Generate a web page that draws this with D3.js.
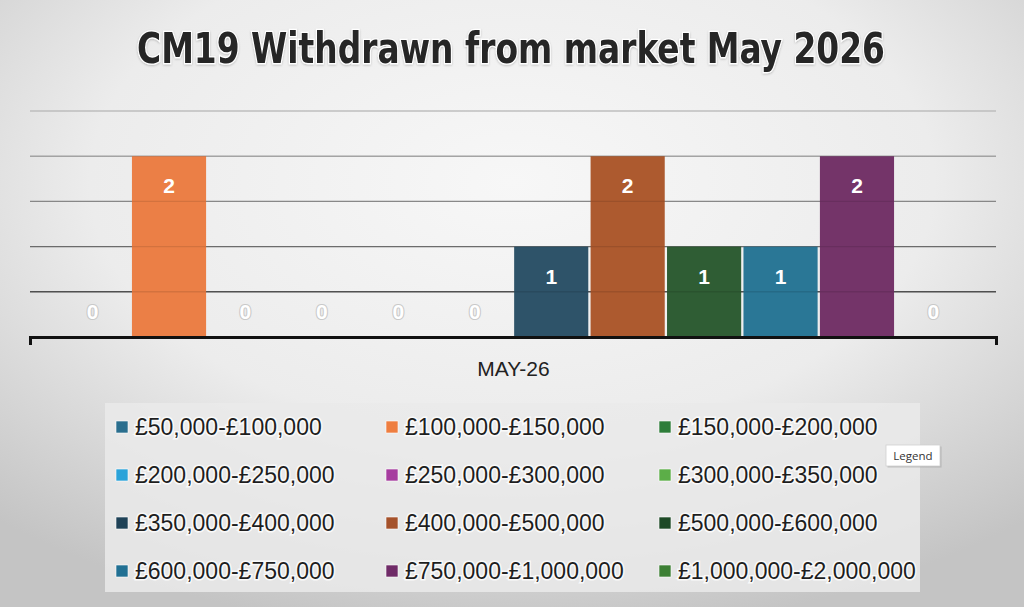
<!DOCTYPE html>
<html>
<head>
<meta charset="utf-8">
<script src="https://cdn.jsdelivr.net/npm/d3@7"></script>
<style>
  html, body { margin: 0; padding: 0; background: #d8d8d8; }
  svg { display: block; }
</style>
</head>
<body>
<svg id="chart" width="1024" height="607"></svg>
<script>
// ---- data ----
const categories = [
  "£50,000-£100,000", "£100,000-£150,000", "£150,000-£200,000",
  "£200,000-£250,000", "£250,000-£300,000", "£300,000-£350,000",
  "£350,000-£400,000", "£400,000-£500,000", "£500,000-£600,000",
  "£600,000-£750,000", "£750,000-£1,000,000", "£1,000,000-£2,000,000"
];
const barOrder = [
  "£50,000-£100,000", "£100,000-£150,000", "£150,000-£200,000",
  "£200,000-£250,000", "£250,000-£300,000", "£300,000-£350,000",
  "£350,000-£400,000", "£400,000-£500,000", "£500,000-£600,000",
  "£600,000-£750,000", "£750,000-£1,000,000", "£1,000,000-£2,000,000"
];
const values = [0, 2, 0, 0, 0, 0, 1, 2, 1, 1, 2, 0];
const legendColors = [
  "#2a6e8e", "#ee7e40", "#2e7d3a",
  "#2ba3d9", "#a63c9f", "#5cae48",
  "#1f4257", "#a5522b", "#1e4a27",
  "#217093", "#6f2b67", "#3c7f34"
];
const barColors = [
  "#2c6f8f", "#eb7f46", "#2f7c3b",
  "#2ba3d9", "#a63c9f", "#5cae48",
  "#2e5369", "#ad5a2f", "#2f5d34",
  "#2a7796", "#743469", "#3c7f34"
];
const periodLabels = ["MAY-26"];
const yTicks = [0.5, 1, 1.5, 2, 2.5];
const title = "CM19 Withdrawn from market May 2026";

// ---- layout ----
const W = 1024, H = 607;
const svg = d3.select("#chart");
const defs = svg.append("defs");

const bg = defs.append("radialGradient").attr("id", "bg")
  .attr("cx", "50%").attr("cy", "30%").attr("r", "75%");
bg.append("stop").attr("offset", "0%").attr("stop-color", "#f7f7f7");
bg.append("stop").attr("offset", "55%").attr("stop-color", "#ececec");
bg.append("stop").attr("offset", "100%").attr("stop-color", "#c4c4c4");
svg.append("rect").attr("width", W).attr("height", H).attr("fill", "url(#bg)");

const glow = defs.append("filter").attr("id", "glow")
  .attr("x", "-10%").attr("y", "-30%").attr("width", "120%").attr("height", "160%");
glow.append("feGaussianBlur").attr("in", "SourceAlpha").attr("stdDeviation", 1).attr("result", "b");
glow.append("feOffset").attr("in", "b").attr("dx", 0.3).attr("dy", 0.6).attr("result", "o");
glow.append("feFlood").attr("flood-color", "#000").attr("flood-opacity", 0.22);
glow.append("feComposite").attr("in2", "o").attr("operator", "in").attr("result", "s");
const gm = glow.append("feMerge");
gm.append("feMergeNode").attr("in", "s");
gm.append("feMergeNode").attr("in", "SourceGraphic");

const plotLeft = 30, plotRight = 996;
const x = d3.scaleBand().domain(barOrder).range([55.5, 970.5]).paddingInner(0.03).paddingOuter(0);
const y = d3.scaleLinear().domain([0, 2.5]).range([337, 111]);
const colorOf = d3.scaleOrdinal().domain(categories).range(barColors);
const legendColorOf = d3.scaleOrdinal().domain(categories).range(legendColors);
const gridColor = d3.scaleLinear().domain([0.5, 2.5]).range(["#4a4a4a", "#d2d2d2"]);

// title
svg.append("text")
  .attr("x", 511).attr("y", 63)
  .attr("text-anchor", "middle")
  .attr("font-family", "'Liberation Sans Narrow', 'DejaVu Sans Condensed', sans-serif")
  .attr("font-weight", "bold")
  .attr("font-size", 43)
  .attr("fill", "#262626")
  .attr("stroke", "#ffffff").attr("stroke-width", 2.5).attr("paint-order", "stroke")
  .attr("textLength", 748).attr("lengthAdjust", "spacingAndGlyphs")
  .attr("filter", "url(#glow)")
  .text(title);

// gridlines (behind bars)
const grid = svg.append("g");
grid.selectAll("line").data(yTicks).join("line")
  .attr("x1", plotLeft).attr("x2", plotRight)
  .attr("y1", d => y(d)).attr("y2", d => y(d))
  .attr("stroke", d => gridColor(d))
  .attr("stroke-width", 1.4)
  .attr("stroke-opacity", 0.9);

// bars
const data = barOrder.map((c, i) => ({ cat: c, v: values[i] }));
svg.append("g").selectAll("rect").data(data).join("rect")
  .attr("x", d => x(d.cat))
  .attr("width", x.bandwidth())
  .attr("y", d => y(d.v))
  .attr("height", d => y(0) - y(d.v))
  .attr("fill", d => colorOf(d.cat));

// faint gridlines showing through the bars
svg.append("g").selectAll("line").data(yTicks).join("line")
  .attr("x1", plotLeft).attr("x2", plotRight)
  .attr("y1", d => y(d)).attr("y2", d => y(d))
  .attr("stroke", "#000").attr("stroke-opacity", 0.1).attr("stroke-width", 1.4);

// data labels
svg.append("g").selectAll("text").data(data).join("text")
  .attr("x", d => x(d.cat) + x.bandwidth() / 2)
  .attr("y", d => d.v > 0 ? y(d.v) + 37 : y(0) - 18)
  .attr("text-anchor", "middle")
  .attr("font-family", "'Liberation Sans', Arial, sans-serif")
  .attr("font-weight", "bold")
  .attr("font-size", 21)
  .attr("fill", "#ffffff")
  .attr("stroke", d => d.v > 0 ? "none" : "#c9c9c9")
  .attr("stroke-width", 2.2)
  .attr("paint-order", "stroke")
  .text(d => d.v);

// x axis
const xAxisScale = d3.scalePoint().domain(periodLabels).range([plotLeft, plotRight]).padding(0.5);
const ax = svg.append("g").attr("transform", `translate(0,${y(0)})`)
  .call(d3.axisBottom(xAxisScale).tickSizeInner(0).tickSizeOuter(8).tickPadding(20));
ax.select(".domain").attr("stroke", "#111").attr("stroke-width", 3);
ax.selectAll(".tick text")
  .attr("font-family", "'Liberation Sans', Arial, sans-serif")
  .attr("font-size", 21)
  .attr("fill", "#222")
  .attr("dy", "0.35em")
  .attr("y", 32);

// legend
svg.append("rect")
  .attr("x", 105).attr("y", 403).attr("width", 815).attr("height", 189)
  .attr("fill", "#eaeaea").attr("fill-opacity", 0.85);

const colX = [116, 386, 659];
const rowY = [427, 475, 523, 571];
const lg = svg.append("g").selectAll("g").data(categories).join("g")
  .attr("transform", (d, i) => `translate(${colX[i % 3]},${rowY[Math.floor(i / 3)]})`);
lg.append("rect")
  .attr("x", 0).attr("y", -6).attr("width", 12).attr("height", 12)
  .attr("fill", d => legendColorOf(d))
  .attr("stroke", "#ffffff").attr("stroke-width", 0.6);
lg.append("text")
  .attr("x", 19).attr("y", 0).attr("dy", "0.36em")
  .attr("font-family", "'Liberation Sans', Arial, sans-serif")
  .attr("font-size", 23)
  .attr("fill", "#1e1e1e")
  .attr("stroke", "#ffffff").attr("stroke-width", 3).attr("stroke-opacity", 0.8)
  .attr("paint-order", "stroke")
  .text(d => d);

// "Legend" tooltip
const tip = svg.append("g").attr("transform", "translate(886,445)");
tip.append("rect").attr("x", 1.5).attr("y", 1.5).attr("width", 54).attr("height", 21)
  .attr("fill", "#9a9a9a").attr("fill-opacity", 0.5);
tip.append("rect").attr("width", 54).attr("height", 21)
  .attr("fill", "#ffffff").attr("stroke", "#d0d0d0").attr("stroke-width", 0.8);
tip.append("text").attr("x", 27).attr("y", 11).attr("dy", "0.35em")
  .attr("text-anchor", "middle")
  .attr("font-family", "'Open Sans', 'DejaVu Sans', sans-serif")
  .attr("font-size", 11.5).attr("fill", "#333")
  .text("Legend");
</script>
</body>
</html>
